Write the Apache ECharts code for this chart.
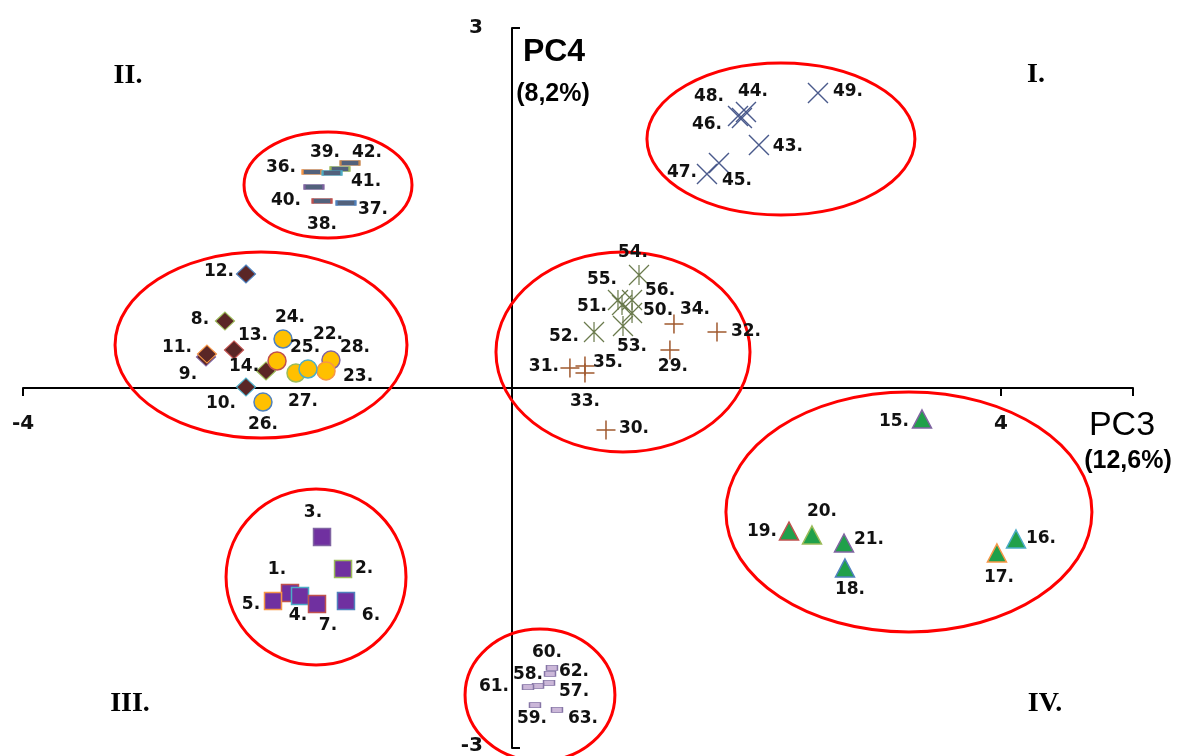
<!DOCTYPE html>
<html><head><meta charset="utf-8">
<script src="https://cdn.jsdelivr.net/npm/echarts@6/dist/echarts.min.js"></script>
<style>html,body{margin:0;padding:0;background:#fff}#c{width:1178px;height:756px}</style>
</head><body><div id="c"></div>
<script>
// ---------- data (PC3, PC4 scores) ----------
const squareIds = [1,2,3,4,5,6,7];
const squareX = [-1.816,-1.382,-1.554,-1.734,-1.955,-1.358,-1.595];
const squareY = [-1.708,-1.508,-1.242,-1.733,-1.775,-1.775,-1.800];

const diamondIds = [8,9,10,11,12,13,14];
const diamondX = [-2.348,-2.503,-2.176,-2.495,-2.176,-2.274,-2.012];
const diamondY = [0.558,0.258,0.008,0.283,0.950,0.317,0.142];

const triangleIds = [15,16,17,18,19,20,21];
const triangleX = [3.354,4.123,3.967,2.724,2.266,2.454,2.716];
const triangleY = [-0.258,-1.258,-1.375,-1.500,-1.192,-1.225,-1.292];

const circleIds = [22,23,24,25,26,27,28];
const circleX = [-1.481,-1.521,-1.873,-1.922,-2.037,-1.767,-1.669];
const circleY = [0.233,0.142,0.408,0.225,-0.117,0.125,0.158];

const plusIds = [29,30,31,32,33,34,35];
const plusX = [1.292,0.769,0.474,1.677,0.597,1.325,0.597];
const plusY = [0.317,-0.350,0.167,0.467,0.125,0.533,0.183];

const dashIds = [36,37,38,39,40,41,42];
const dashX = [-1.636,-1.358,-1.554,-1.407,-1.620,-1.472,-1.325];
const dashY = [1.800,1.542,1.558,1.825,1.675,1.792,1.875];

const crossIds = [43,44,45,46,47,48,49];
const crossX = [2.020,1.914,1.693,1.881,1.595,1.849,2.503];
const crossY = [2.025,2.300,1.875,2.250,1.783,2.267,2.458];

const starIds = [50,51,52,53,54,55,56];
const starX = [0.982,0.900,0.671,0.908,1.039,0.867,0.982];
const starY = [0.625,0.692,0.467,0.517,0.942,0.733,0.733];

const barIds = [57,58,59,60,61,62,63];
const barX = [0.303,0.213,0.188,0.327,0.131,0.311,0.368];
const barY = [-2.458,-2.483,-2.642,-2.333,-2.492,-2.383,-2.683];

// group outlines (centre x, centre y, half-width, half-height in axis units)
const groupCx = [2.200,-1.505,-2.053,0.908,3.247,-1.603,0.229];
const groupCy = [2.075,1.692,0.358,0.300,-1.033,-1.575,-2.558];
const groupRx = [1.096,0.687,1.194,1.039,1.497,0.736,0.613];
const groupRy = [0.633,0.442,0.775,0.833,1.000,0.733,0.550];

// axis tick labels (values shown on each axis)
const xTickValues = [-4, 4];
const yTickValues = [3, -3];

// ---------- layout / style (label offsets in px relative to mark) ----------
const squareOff = [[-13,-23],[21,0],[-9,-24],[-2,20],[-22,4],[25,15],[11,22]];
const diamondOff = [[-25,-1],[-18,18],[-25,17],[-30,-6],[-27,-2],[19,-14],[-22,-4]];
const triangleOff = [[-28,3],[25,0],[2,25],[5,22],[-27,1],[10,-23],[25,-3]];
const circleOff = [[-3,-25],[32,6],[7,-21],[28,-13],[0,23],[7,29],[47,-21]];
const plusOff = [[3,17],[28,-1],[-26,-1],[29,0],[0,29],[21,-14],[23,-3]];
const dashOff = [[-31,-4],[27,7],[0,24],[-15,-16],[-28,14],[34,9],[17,-10]];
const crossOff = [[29,2],[7,-20],[18,18],[-35,7],[-25,-1],[-29,-19],[30,-1]];
const starOff = [[26,-2],[-30,2],[-30,5],[9,21],[-6,-22],[-16,-20],[28,-9]];
const barOff = [[25,9],[-10,-11],[-3,14],[-5,-15],[-34,0],[24,-2],[26,9]];

const PAL = ['#4f81bd','#c0504d','#9bbb59','#8064a2','#4bacc6','#f79646'];
const byNum = ids => ids.map(n => PAL[n % 6]);
const circleBorders = ['#8064a2','#f79646','#4f81bd','#c0504d','#4f81bd','#9bbb59','#4bacc6'];
const dashBorders = ['#f79646','#4f81bd','#c0504d','#9bbb59','#8064a2','#4bacc6','#c8844a'];

function makeSeries(ids, xs, ys, offs, borders, st) {
  return {
    type: 'scatter',
    symbol: st.symbol,
    symbolSize: st.size,
    z: 5,
    data: ids.map((id, i) => ({
      value: [xs[i], ys[i]],
      name: id + '.',
      itemStyle: borders ? { borderColor: borders[i] } : {},
      label: { offset: offs[i] }
    })),
    itemStyle: { color: st.fill, borderColor: st.stroke || '#000', borderWidth: st.bw, opacity: 1 },
    label: {
      show: true, position: 'inside', formatter: p => p.name,
      color: '#111', fontFamily: 'DejaVu Sans', fontWeight: 'bold', fontSize: 17
    },
    emphasis: { disabled: true },
    silent: true
  };
}

const series = [
  {
    type: 'custom', z: 3, clip: false, silent: true,
    data: groupCx.map((c, i) => [c, groupCy[i], groupRx[i], groupRy[i]]),
    encode: { x: 0, y: 1 },
    renderItem: (params, api) => {
      const c = api.coord([api.value(0), api.value(1)]);
      const s = api.size([api.value(2), api.value(3)]);
      return { type: 'ellipse', shape: { cx: c[0], cy: c[1], rx: s[0], ry: s[1] },
               style: { fill: 'none', stroke: '#ff0000', lineWidth: 3 } };
    }
  },
  makeSeries(squareIds, squareX, squareY, squareOff, byNum(squareIds),
    { symbol: 'rect', size: 17, fill: '#7030a0', bw: 1.5 }),
  makeSeries(diamondIds, diamondX, diamondY, diamondOff, byNum(diamondIds),
    { symbol: 'diamond', size: [19, 18], fill: '#5a2626', bw: 1.2 }),
  makeSeries(triangleIds, triangleX, triangleY, triangleOff, byNum(triangleIds),
    { symbol: 'triangle', size: [19, 18], fill: '#20a04a', bw: 1.5 }),
  makeSeries(circleIds, circleX, circleY, circleOff, circleBorders,
    { symbol: 'circle', size: 18, fill: '#ffc000', bw: 1.5 }),
  makeSeries(plusIds, plusX, plusY, plusOff, null,
    { symbol: 'path://M10,0L10,20M0,10L20,10', size: 19, fill: 'none', stroke: '#a0592e', bw: 1.5 }),
  makeSeries(dashIds, dashX, dashY, dashOff, dashBorders,
    { symbol: 'rect', size: [19, 5], fill: '#52617c', bw: 1.2 }),
  makeSeries(crossIds, crossX, crossY, crossOff, null,
    { symbol: 'path://M0,0L20,20M20,0L0,20', size: 20, fill: 'none', stroke: '#4a5a8c', bw: 1.4 }),
  makeSeries(starIds, starX, starY, starOff, null,
    { symbol: 'path://M0,0L20,20M20,0L0,20M10,0L10,20', size: 20, fill: 'none', stroke: '#6a7a4c', bw: 1.2 }),
  makeSeries(barIds, barX, barY, barOff, null,
    { symbol: 'rect', size: [11, 5], fill: '#cbb7d8', stroke: '#8676a6', bw: 1 })
];

const option = {
  animation: false,
  backgroundColor: '#fff',
  grid: { left: 23, right: 45, top: 28, bottom: 8, containLabel: false, outerBoundsMode: 'none' },
  xAxis: {
    type: 'value', min: -4, max: 5.08, interval: 4,
    splitLine: { show: false },
    axisLine: { onZero: true, lineStyle: { color: '#000', width: 2 } },
    axisTick: { show: true, length: 8, lineStyle: { color: '#000', width: 2 } },
    axisLabel: { show: false }
  },
  yAxis: {
    type: 'value', min: -3, max: 3, interval: 3,
    splitLine: { show: false },
    axisLine: { onZero: true, lineStyle: { color: '#000', width: 2 } },
    axisTick: { show: true, inside: true, length: 8, lineStyle: { color: '#000', width: 2 } },
    axisLabel: { show: false }
  },
  series
};

const chart = echarts.init(document.getElementById('c'), null, { renderer: 'canvas' });
chart.setOption(option);

// tick labels placed next to the zero-crossing axes, through the chart's own scales
const tickFont = 'bold 20px "DejaVu Sans"';
const g = [];
xTickValues.forEach(v => {
  const p = chart.convertToPixel({ gridIndex: 0 }, [v, 0]);
  g.push({ type: 'text', x: p[0], y: p[1] + 36, style: { text: String(v), font: tickFont, fill: '#111', align: 'center', verticalAlign: 'middle' } });
});
yTickValues.forEach(v => {
  const p = chart.convertToPixel({ gridIndex: 0 }, [0, v]);
  g.push({ type: 'text', x: p[0] - 29, y: p[1] + (v < 0 ? -2 : 0), style: { text: String(v), font: tickFont, fill: '#111', align: 'right', verticalAlign: 'middle' } });
});
const T = (x, y, text, font) => ({ type: 'text', x, y, style: { text, font, fill: '#000', align: 'center', verticalAlign: 'middle' } });
g.push(
  T(554, 52, 'PC4', 'bold 32px "Liberation Sans"'),
  T(553, 94, '(8,2%)', 'bold 25px "Liberation Sans"'),
  T(1122, 426, 'PC3', '34px "Liberation Sans"'),
  T(1128, 461, '(12,6%)', 'bold 25px "Liberation Sans"'),
  T(1036, 75, 'I.', 'bold 28px "Liberation Serif"'),
  T(128, 76, 'II.', 'bold 28px "Liberation Serif"'),
  T(130, 704, 'III.', 'bold 28px "Liberation Serif"'),
  T(1045, 704, 'IV.', 'bold 28px "Liberation Serif"')
);
chart.setOption({ graphic: g });
</script>
</body></html>
